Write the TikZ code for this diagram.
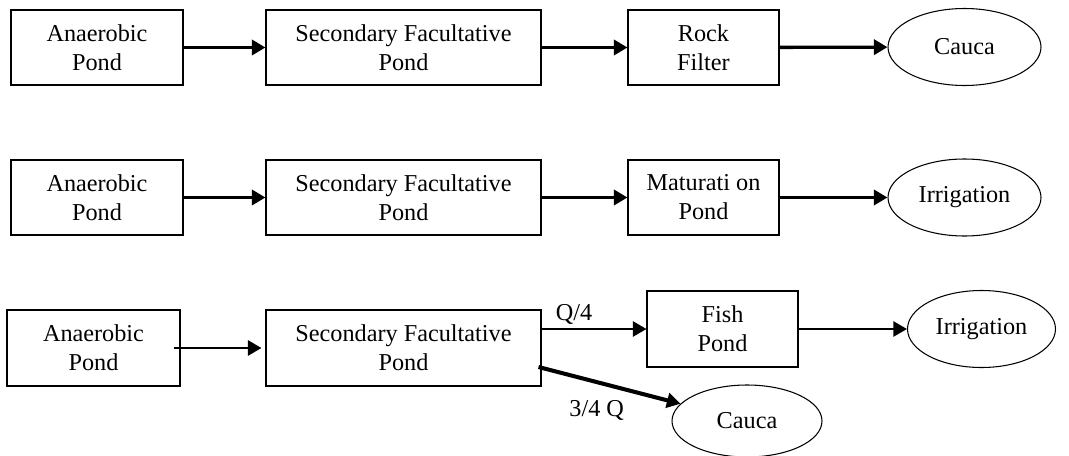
\documentclass[tikz,border=0pt]{standalone}
\usepackage{fontspec}
\setmainfont{Liberation Serif}
\usepackage{tikz}
\usetikzlibrary{positioning, shapes.geometric, arrows.meta, calc}

\begin{document}
\begin{tikzpicture}[font=\fontsize{13.8}{16.5}\selectfont,
    pond/.style={draw, line width=0.6pt, align=center, inner sep=0pt,
      minimum height=1.5cm},
    outlet/.style={draw, ellipse, line width=0.6pt, inner sep=0pt,
      minimum width=3.06cm, minimum height=1.54cm},
    flowarrow/.style={line width=1.9pt, -{Triangle[length=0.27cm, width=0.3cm]}}]
    \useasboundingbox (0,0) rectangle (21.38,-9.12);
    % first line: rock filter
    \node[pond, minimum width=3.44cm] (ana1) at (1.94,-0.95) {Anaerobic\\Pond};
    \node[pond, minimum width=5.5cm] (fac1) at (8.07,-0.95) {Secondary Facultative\\Pond};
    \node[pond, minimum width=3.02cm] (rock1) at (14.07,-0.95) {Rock\\Filter};
    \node[outlet] (cauca1) at (19.29,-0.94) {Cauca};
    \draw[flowarrow] (ana1) -- (fac1);
    \draw[flowarrow] (fac1) -- (rock1);
    \draw[flowarrow] (rock1) -- (cauca1);
    % second line: maturation
    \node[pond, minimum width=3.44cm] (ana2) at (1.94,-3.95) {Anaerobic\\Pond};
    \node[pond, minimum width=5.5cm] (fac2) at (8.07,-3.95) {Secondary Facultative\\Pond};
    \node[pond, minimum width=3.02cm] (mat2) at (14.07,-3.95) {Maturati on\\Pond};
    \node[outlet] (irr2) at (19.29,-3.95) {Irrigation};
    \draw[flowarrow] (ana2) -- (fac2);
    \draw[flowarrow] (fac2) -- (mat2);
    \draw[flowarrow] (mat2) -- (irr2);
    % third line: fish pond, split flow
    \node[pond, minimum width=3.46cm, minimum height=1.52cm] (ana3) at (1.87,-6.96) {Anaerobic\\Pond};
    \node[pond, minimum width=5.5cm, minimum height=1.52cm] (fac3) at (8.07,-6.96) {Secondary Facultative\\Pond};
    \node[pond, minimum width=3.02cm, minimum height=1.52cm] (fish3) at (14.45,-6.58) {Fish\\Pond};
    \node[outlet, minimum width=2.96cm] (irr3) at (19.63,-6.58) {Irrigation};
    \node[outlet, minimum width=3.0cm, minimum height=1.44cm] (cauca3) at (14.94,-8.42) {Cauca};
    \draw[flowarrow, line width=1.5pt, shorten >=0.08cm] ($(ana3.east)+(-0.14,0)$) -- (fac3);
    \draw[flowarrow, line width=1.3pt] (fac3.east |- fish3.west) -- (fish3.west)
      node[pos=0.31, above, inner sep=2pt] {Q/4};
    \draw[flowarrow, line width=1.3pt] (fish3) -- (irr3);
    \draw[flowarrow, line width=2.3pt] ($(fac3.east)+(-0.06,-0.38)$) -- (cauca3)
      node[pos=0.41, below=6pt] {3/4 Q};
  \end{tikzpicture}
\end{document}
